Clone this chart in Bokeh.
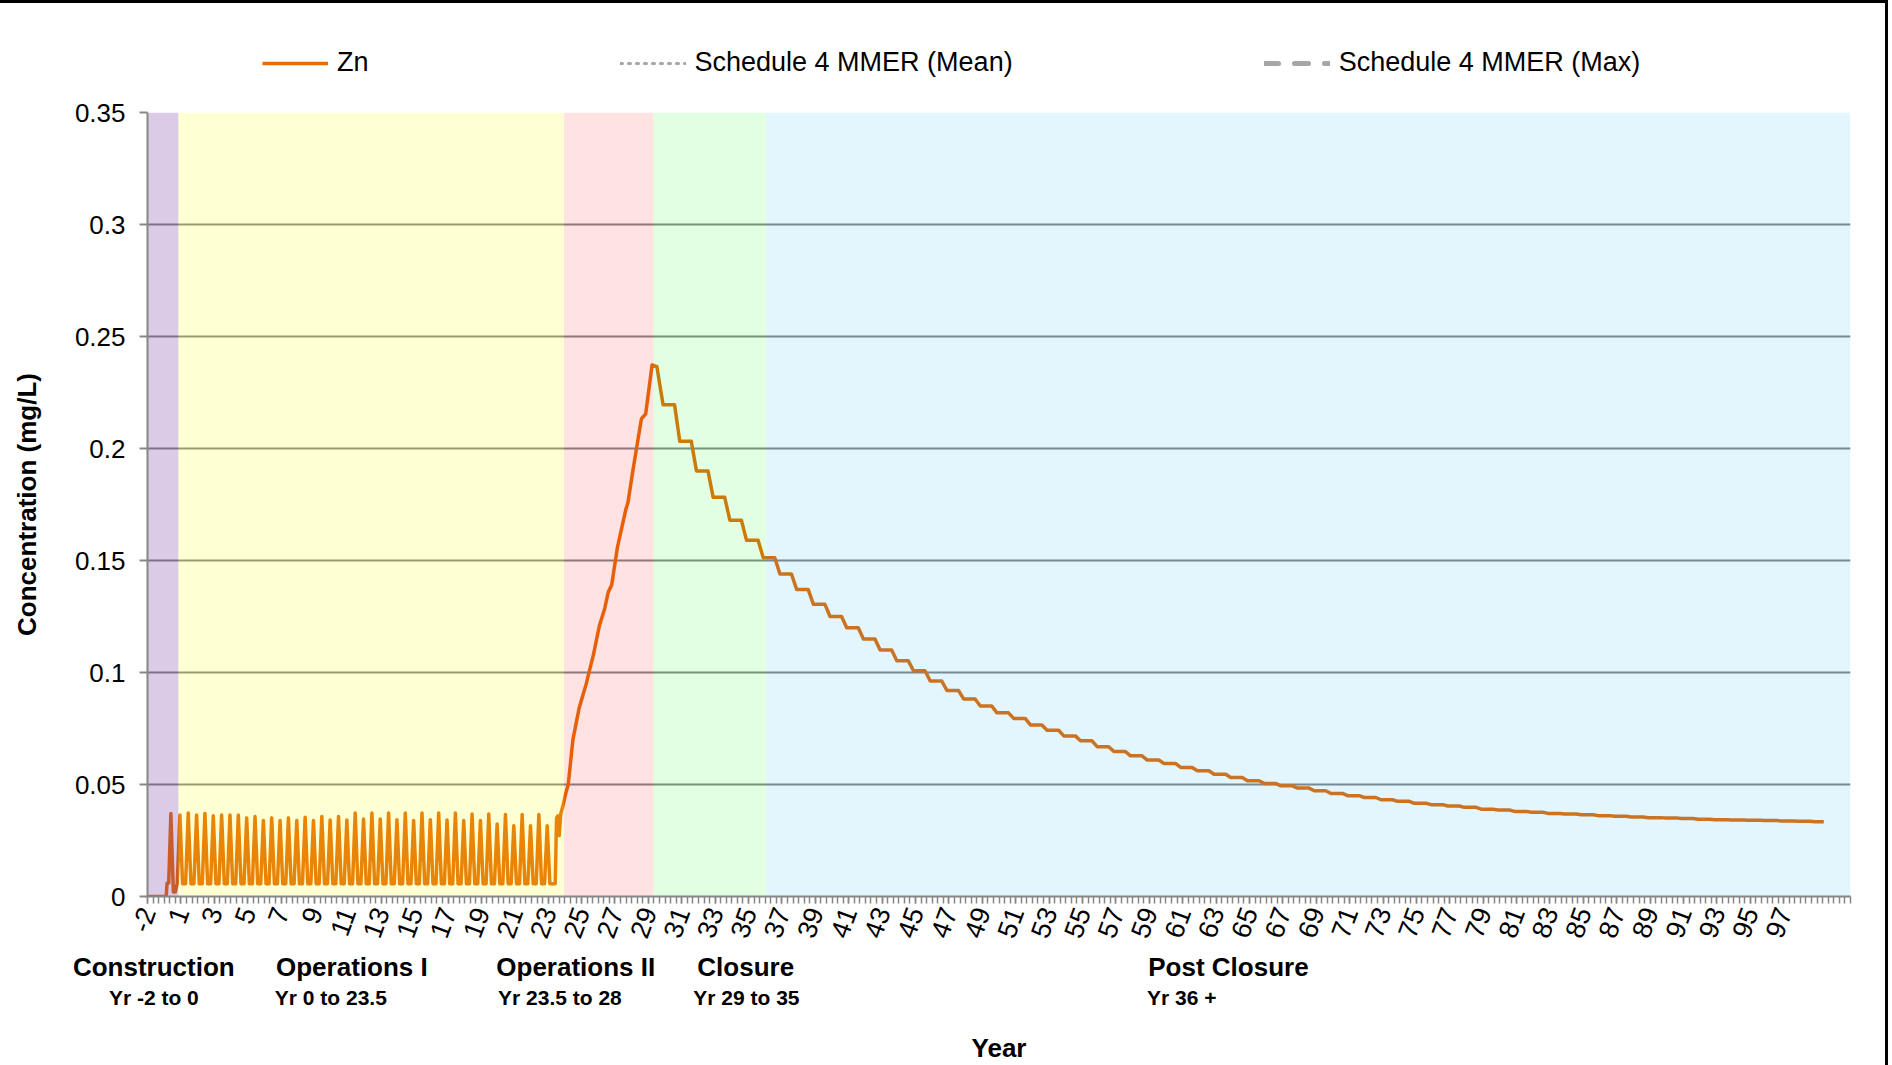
import numpy as np
from bokeh.plotting import figure
from bokeh.layouts import column
from bokeh.models import Range1d, FixedTicker, Legend, LegendItem, LinearAxis
from bokeh.embed import file_html
from bokeh.resources import INLINE

# ---------------- data ----------------
# x position t: the tick labelled "k" (k >= 1) sits at t = k; the first label "-2" sits at t = -1
tick_positions = [-1] + list(range(1, 99, 2))
tick_labels = ["-2"] + [str(k) for k in range(1, 99, 2)]

y_ticks = [0, 0.05, 0.1, 0.15, 0.2, 0.25, 0.3, 0.35]
y_tick_labels = ["0", "0.05", "0.1", "0.15", "0.2", "0.25", "0.3", "0.35"]

# phases (band edges in t) and their labels
phase_edges = [-1.0, 0.85, 23.95, 29.3, 36.05, 101.0]
phase_names = ["Construction", "Operations I", "Operations II", "Closure", "Post Closure"]
phase_name_t = [-0.62, 11.24, 24.65, 34.83, 63.74]
phase_years = ["Yr -2 to 0", "Yr 0 to 23.5", "Yr 23.5 to 28", "Yr 29 to 35", "Yr 36 +"]
phase_year_t = [-0.62, 9.98, 23.7, 34.87, 60.95]

# Zn, construction
construction_t = [-1.0, 0.12, 0.17, 0.27, 0.40, 0.55, 0.66]
construction_zn = [0.0, 0.0, 0.006, 0.006, 0.037, 0.002, 0.002]

# Zn, operations I: semi-annual pulses over a low baseline
ops1_peak_t = [0.94, 1.44, 1.94, 2.44, 2.94, 3.44, 3.94, 4.44, 4.94, 5.44,
               5.94, 6.44, 6.94, 7.44, 7.94, 8.44, 8.94, 9.44, 9.94, 10.44,
               10.94, 11.44, 11.94, 12.44, 12.94, 13.44, 13.94, 14.44, 14.94, 15.44,
               15.94, 16.44, 16.94, 17.44, 17.94, 18.44, 18.94, 19.44, 19.94, 20.44,
               20.94, 21.44, 21.94, 22.44, 22.94]
ops1_peak_zn = [0.0364, 0.0373, 0.0364, 0.0371, 0.0361, 0.0364, 0.0364, 0.0364, 0.0351, 0.0357,
                0.0339, 0.0351, 0.0339, 0.0351, 0.0339, 0.0354, 0.0339, 0.0357, 0.0342, 0.0357,
                0.0342, 0.0373, 0.0346, 0.0373, 0.0346, 0.0373, 0.0343, 0.0373, 0.0339, 0.0373,
                0.0343, 0.0373, 0.0342, 0.0373, 0.0339, 0.0368, 0.0339, 0.0368, 0.0324, 0.0366,
                0.0316, 0.0366, 0.0316, 0.0366, 0.0316]
ops1_base_zn = 0.0057

# Zn, operations II rise to the peak
ops2_t = [23.42, 23.50, 23.58, 23.66, 23.75, 23.90, 24.05, 24.20, 24.48, 24.85,
          25.28, 25.71, 26.07, 26.39, 26.60, 26.80, 27.15, 27.64, 27.78, 28.09,
          28.58, 28.84, 29.22, 29.51]
ops2_zn = [0.0057, 0.035, 0.036, 0.0272, 0.0368, 0.041, 0.046, 0.050, 0.070, 0.084,
           0.095, 0.108, 0.121, 0.1287, 0.136, 0.139, 0.156, 0.1725, 0.176, 0.191,
           0.2132, 0.2155, 0.2373, 0.2365]

# Zn, closure and post closure: one level per year (stepped decline)
post_year = list(range(29, 99))
post_zn = [0.2195, 0.2032, 0.1900, 0.1782, 0.1680, 0.1590, 0.1512, 0.1440, 0.1371, 0.1305,
           0.1250, 0.1200, 0.1150, 0.1100, 0.1052, 0.1008, 0.0962, 0.0920, 0.0882, 0.0850,
           0.0820, 0.0795, 0.0766, 0.0742, 0.0717, 0.0695, 0.0669, 0.0647, 0.0628, 0.0609,
           0.0594, 0.0576, 0.0561, 0.0546, 0.0531, 0.0517, 0.0505, 0.0494, 0.0484, 0.0472,
           0.0460, 0.0450, 0.0442, 0.0432, 0.0425, 0.0416, 0.0410, 0.0404, 0.0398, 0.0390,
           0.0386, 0.0380, 0.0376, 0.0371, 0.0368, 0.0365, 0.0361, 0.0358, 0.0355, 0.0352,
           0.0351, 0.0348, 0.0345, 0.0343, 0.0342, 0.0340, 0.0339, 0.0337, 0.0336, 0.0334]
series_end_t = 99.4

# Schedule 4 MMER limits (mg/L) -- above the plotted range
mmer_mean = 0.5
mmer_max = 1.0

# ---------------- build the Zn polyline ----------------
zn_t = list(construction_t)
zn_v = list(construction_zn)
half = 0.16
for tp, vp in zip(ops1_peak_t, ops1_peak_zn):
    zn_t += [tp - half, tp, tp + half]
    zn_v += [ops1_base_zn, vp, ops1_base_zn]
zn_t += ops2_t
zn_v += ops2_zn
for k, lv in zip(post_year, post_zn):
    zn_t += [k + 0.88, min(k + 1.57, series_end_t)]
    zn_v += [lv, lv]

# ---------------- styles ----------------
FONT = "Liberation Sans"
GRID = "#868686"
ZN_COLOR = "#E46C0A"
MMER_COLOR = "#A6A6A6"
W = 1885


def draw_series(fig):
    r_zn = fig.line(zn_t, zn_v, line_color=ZN_COLOR, line_width=3.5, line_join="round")
    r_mean = fig.line([-1, 101], [mmer_mean, mmer_mean], line_color=MMER_COLOR, line_width=3,
                      line_dash="2 6", line_cap="round")
    r_max = fig.line([-1, 101], [mmer_max, mmer_max], line_color=MMER_COLOR, line_width=5,
                     line_dash="14 16", line_cap="round")
    return r_zn, r_mean, r_max


# ---------------- legend strip (top) ----------------
lg = figure(width=W, height=84, output_backend="svg", toolbar_location=None,
            x_range=Range1d(-1, 101), y_range=Range1d(2, 3),
            min_border_left=0, min_border_right=0, min_border_top=0, min_border_bottom=0)
lg.axis.visible = False
lg.grid.visible = False
lg.outline_line_color = None
lg.background_fill_color = "white"
lg.border_fill_color = "white"
lg_zn, lg_mean, lg_max = draw_series(lg)   # all values lie below this strip's range

legend = Legend(items=[LegendItem(label="Zn", renderers=[lg_zn]),
                       LegendItem(label="Schedule 4 MMER (Mean)", renderers=[lg_mean]),
                       LegendItem(label="Schedule 4 MMER (Max)", renderers=[lg_max])],
                orientation="horizontal", location=(115, 9), spacing=251,
                glyph_width=66, glyph_height=30, label_standoff=9, padding=0, margin=0,
                border_line_alpha=0, background_fill_alpha=0,
                label_text_font=FONT, label_text_font_size="27px", label_text_color="black")
lg.add_layout(legend)

# ---------------- main chart ----------------
p = figure(width=W, height=978, output_backend="svg", toolbar_location=None,
           x_range=Range1d(-1, 101), y_range=Range1d(0, 0.35),
           min_border_left=147, min_border_right=35, min_border_top=25, min_border_bottom=165)
p.outline_line_color = None
p.background_fill_color = "white"
p.border_fill_color = "white"

zn_r, mean_r, max_r = draw_series(p)

band_colors = ["#7030A0", "#FFFF00", "#FF0000", "#00FF00", "#00B0F0"]
band_alpha = [0.25, 0.17, 0.11, 0.11, 0.11]
p.quad(left=phase_edges[:-1], right=phase_edges[1:], bottom=0, top=0.35,
       fill_color=band_colors, fill_alpha=band_alpha, line_color=None)

p.xgrid.visible = False
p.ygrid.ticker = FixedTicker(ticks=y_ticks)
p.ygrid.grid_line_color = GRID
p.ygrid.grid_line_width = 2

xa = p.xaxis[0]
xa.ticker = FixedTicker(ticks=tick_positions, minor_ticks=list(np.arange(-1, 101.01, 1 / 3)))
xa.major_label_overrides = {t: s for t, s in zip(tick_positions, tick_labels)}
xa.major_label_orientation = 1.22
xa.major_label_text_font = FONT
xa.major_label_text_font_size = "27px"
xa.major_label_text_color = "black"
xa.major_label_standoff = 5
xa.axis_line_color = GRID
xa.axis_line_width = 2
xa.major_tick_line_color = GRID
xa.minor_tick_line_color = GRID
xa.major_tick_line_width = 1.5
xa.minor_tick_line_width = 1.5
xa.major_tick_out = 7
xa.major_tick_in = 0
xa.minor_tick_out = 7
xa.minor_tick_in = 0


def text_axis(ticks, labels, size, standoff):
    ax = LinearAxis(ticker=FixedTicker(ticks=ticks),
                    major_label_overrides={t: s for t, s in zip(ticks, labels)},
                    major_label_text_font=FONT, major_label_text_font_style="bold",
                    major_label_text_font_size=size, major_label_text_color="black",
                    major_label_standoff=standoff, axis_line_color=None,
                    major_tick_line_color=None, minor_tick_line_color=None)
    p.add_layout(ax, "below")
    return ax


name_axis = text_axis(phase_name_t, phase_names, "26px", -1)
year_axis = text_axis(phase_year_t, phase_years, "21px", -5)
year_axis.axis_label = "Year"
year_axis.axis_label_text_font = FONT
year_axis.axis_label_text_font_style = "bold"
year_axis.axis_label_text_font_size = "26px"
year_axis.axis_label_text_color = "black"
year_axis.axis_label_standoff = 21

ya = p.yaxis[0]
ya.ticker = FixedTicker(ticks=y_ticks)
ya.major_label_overrides = {t: s for t, s in zip(y_ticks, y_tick_labels)}
ya.major_label_text_font = FONT
ya.major_label_text_font_size = "26px"
ya.major_label_text_color = "black"
ya.major_label_standoff = 14
ya.axis_line_color = GRID
ya.axis_line_width = 2
ya.major_tick_line_color = GRID
ya.major_tick_line_width = 2
ya.major_tick_out = 8
ya.major_tick_in = 0
ya.minor_tick_line_color = None
ya.axis_label = "Concentration (mg/L)"
ya.axis_label_text_font = FONT
ya.axis_label_text_font_style = "bold"
ya.axis_label_text_font_size = "26px"
ya.axis_label_text_color = "black"
ya.axis_label_standoff = 30

layout = column(lg, p, spacing=0)
layout.styles = {"border-top": "3px solid black", "border-right": "3px solid black"}

open("out.html", "w").write(file_html(layout, INLINE))
